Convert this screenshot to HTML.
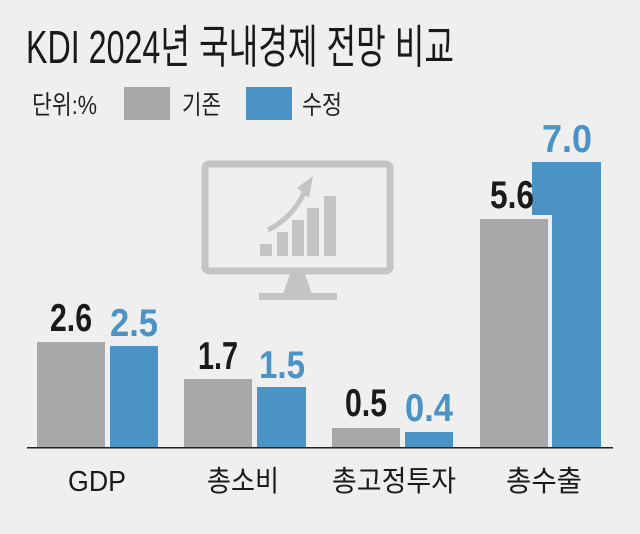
<!DOCTYPE html>
<html><head><meta charset="utf-8"><style>
html,body{margin:0;padding:0;background:#efefef;}
svg{display:block}
</style></head><body>
<svg width="640" height="534" viewBox="0 0 640 534" xmlns="http://www.w3.org/2000/svg">
<rect width="640" height="534" fill="#efefef"/>
<text x="26" y="63" font-family="'Liberation Sans','Noto Sans CJK KR',sans-serif" font-size="46" fill="#1a1a1a" textLength="428" lengthAdjust="spacingAndGlyphs">KDI 2024년 국내경제 전망 비교</text>
<g font-family="'Liberation Sans','Noto Sans CJK KR',sans-serif" font-size="26" fill="#222">
<text x="32" y="114" textLength="65" lengthAdjust="spacingAndGlyphs">단위:%</text>
<rect x="124" y="87" width="46" height="33" fill="#a7a8aa"/>
<text x="182" y="114" textLength="39" lengthAdjust="spacingAndGlyphs">기존</text>
<rect x="246" y="87" width="46" height="33" fill="#4a93c4"/>
<text x="302" y="114" textLength="40" lengthAdjust="spacingAndGlyphs">수정</text>
</g>
<g fill="#c4c4c4">
<rect x="205" y="164" width="185" height="107" rx="4" fill="none" stroke="#c4c4c4" stroke-width="7"/>
<polygon points="290,274 305,274 312,294 283,294"/>
<rect x="259" y="293" width="78" height="7"/>
<rect x="260" y="244" width="12" height="12"/>
<rect x="277" y="232" width="11" height="24"/>
<rect x="292" y="220" width="12" height="36"/>
<rect x="307" y="208" width="12" height="48"/>
<rect x="324" y="196" width="12" height="60"/>
<path d="M268 230 Q292 218 304 193" fill="none" stroke="#c4c4c4" stroke-width="5"/>
<polygon points="313,176 297,188 309,198"/>
</g>
<rect x="37" y="342" width="68" height="106" fill="#a7a8aa"/>
<rect x="110" y="346" width="48" height="102" fill="#4a93c4"/>
<rect x="184" y="379" width="68" height="69" fill="#a7a8aa"/>
<rect x="257" y="387" width="49" height="61" fill="#4a93c4"/>
<rect x="332" y="428" width="68" height="20" fill="#a7a8aa"/>
<rect x="405" y="432" width="48" height="16" fill="#4a93c4"/>
<rect x="532" y="162" width="69" height="286" fill="#4a93c4"/>
<rect x="477" y="215" width="75" height="233" fill="#efefef"/>
<rect x="480" y="219" width="68" height="229" fill="#a7a8aa"/>
<rect x="27" y="447" width="586" height="1.5" fill="#222"/>
<g font-family="'Liberation Sans',sans-serif" font-size="39" font-weight="bold" text-anchor="middle" lengthAdjust="spacingAndGlyphs">
<text x="71" y="331" fill="#1a1a1a" textLength="42" lengthAdjust="spacingAndGlyphs">2.6</text>
<text x="134" y="336" fill="#4a93c4" textLength="48" lengthAdjust="spacingAndGlyphs">2.5</text>
<text x="218" y="369" fill="#1a1a1a" textLength="40" lengthAdjust="spacingAndGlyphs">1.7</text>
<text x="282" y="378" fill="#4a93c4" textLength="46" lengthAdjust="spacingAndGlyphs">1.5</text>
<text x="366" y="416" fill="#1a1a1a" textLength="42" lengthAdjust="spacingAndGlyphs">0.5</text>
<text x="429" y="421" fill="#4a93c4" textLength="48" lengthAdjust="spacingAndGlyphs">0.4</text>
<text x="512" y="208" fill="#1a1a1a" textLength="44" lengthAdjust="spacingAndGlyphs">5.6</text>
<text x="567" y="152" fill="#4a93c4" textLength="50" lengthAdjust="spacingAndGlyphs">7.0</text>
</g>
<g font-family="'Liberation Sans','Noto Sans CJK KR',sans-serif" font-size="29" fill="#1a1a1a" text-anchor="middle">
<text x="97" y="491" textLength="58" lengthAdjust="spacingAndGlyphs">GDP</text>
<text x="243" y="491" textLength="72" lengthAdjust="spacingAndGlyphs">총소비</text>
<text x="394" y="491" textLength="124" lengthAdjust="spacingAndGlyphs">총고정투자</text>
<text x="544" y="491" textLength="76" lengthAdjust="spacingAndGlyphs">총수출</text>
</g>
</svg>
</body></html>
